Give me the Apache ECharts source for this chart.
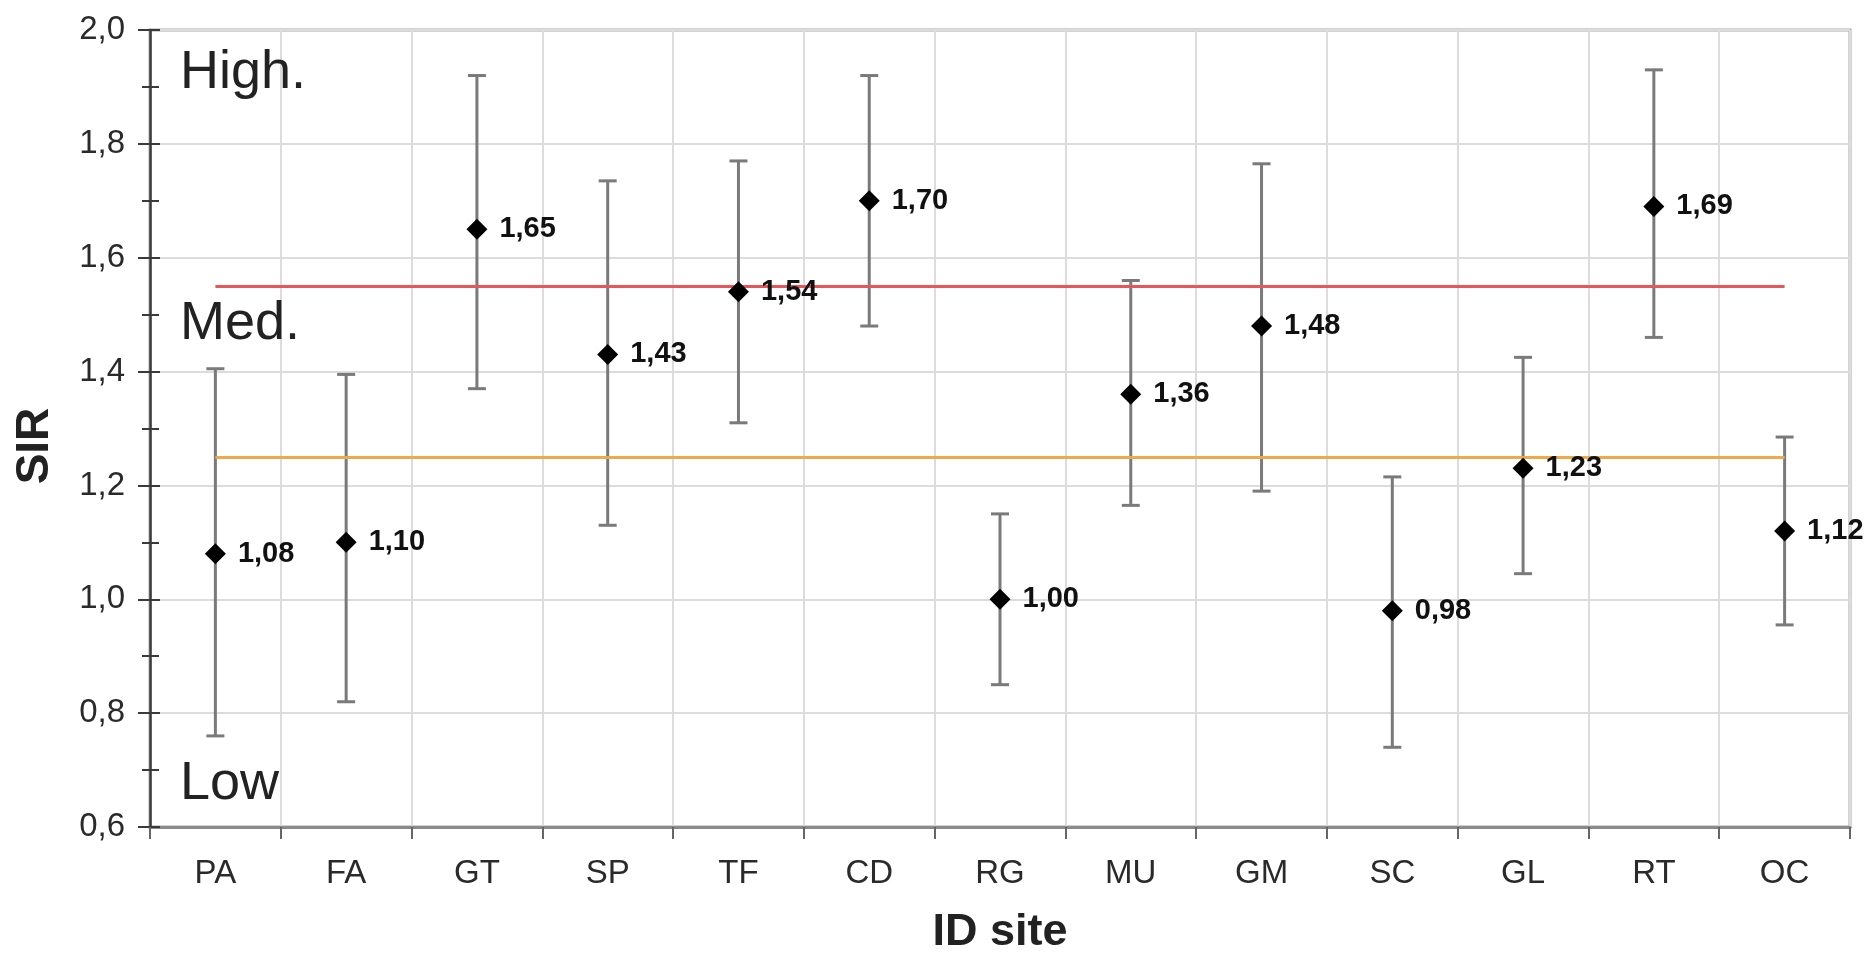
<!DOCTYPE html>
<html>
<head>
<meta charset="utf-8">
<title>SIR by site</title>
<script src="https://cdn.jsdelivr.net/npm/echarts@6/dist/echarts.min.js"></script>
<style>
  html, body { margin: 0; padding: 0; background: #ffffff; }
  #chart { width: 1872px; height: 956px; }
</style>
</head>
<body>
<div id="chart"></div>
<script>
// Sites along the x axis
const categories = ['PA', 'FA', 'GT', 'SP', 'TF', 'CD', 'RG', 'MU', 'GM', 'SC', 'GL', 'RT', 'OC'];
// Standardised incidence ratio per site
const sirValues = [1.08, 1.10, 1.65, 1.43, 1.54, 1.70, 1.00, 1.36, 1.48, 0.98, 1.23, 1.69, 1.12];
// Confidence interval bounds per site
const lowerBounds = [0.76, 0.82, 1.37, 1.13, 1.31, 1.48, 0.85, 1.165, 1.19, 0.74, 1.045, 1.46, 0.955];
const upperBounds = [1.405, 1.395, 1.92, 1.735, 1.77, 1.92, 1.15, 1.56, 1.765, 1.215, 1.425, 1.93, 1.285];
// Class thresholds (Low / Med. / High.)
const highThreshold = 1.55;
const lowThreshold = 1.25;
// Y axis range
const yMin = 0.6;
const yMax = 2.0;
const yStep = 0.2;
// Class names written inside the plot
const classNames = ['High.', 'Med.', 'Low'];

const FONT = '"Liberation Sans", Arial, Helvetica, sans-serif';
const comma = (v, d) => Number(v).toFixed(d).replace('.', ',');

const chart = echarts.init(document.getElementById('chart'), null, { renderer: 'canvas' });

const errorData = categories.map((c, i) => [i, lowerBounds[i], upperBounds[i]]);

const baseY = {
  type: 'value',
  min: yMin,
  max: yMax,
  interval: yStep,
  position: 'left'
};

const option = {
  backgroundColor: '#ffffff',
  animation: false,
  grid: {
    left: 150, right: 22, top: 30, bottom: 129,
    show: true,
    borderColor: '#a8a8a8',
    borderWidth: 3,
    backgroundColor: 'transparent'
  },
  xAxis: {
    type: 'category',
    data: categories,
    boundaryGap: true,
    axisLine: { show: true, lineStyle: { color: '#8a8a8a', width: 3 } },
    axisTick: { show: true, alignWithLabel: false, length: 12, lineStyle: { color: '#666', width: 2 } },
    axisLabel: { fontFamily: FONT, fontSize: 33, color: '#2a2a2a', margin: 30 },
    splitLine: { show: true, lineStyle: { color: '#dcdcdc', width: 2 } }
  },
  yAxis: [
    Object.assign({}, baseY, {
      axisLine: { show: true, lineStyle: { color: '#3a3a3a', width: 2.5 } },
      axisTick: { show: true, inside: false, length: 12, lineStyle: { color: '#3a3a3a', width: 2 } },
      minorTick: { show: true, splitNumber: 2, length: 8, lineStyle: { color: '#3a3a3a', width: 2 } },
      axisLabel: {
        fontFamily: FONT, fontSize: 33, color: '#2a2a2a', margin: 25,
        formatter: v => comma(v, 1)
      },
      splitLine: { show: true, lineStyle: { color: '#dcdcdc', width: 2 } }
    }),
    Object.assign({}, baseY, {
      axisLine: { show: false },
      axisTick: { show: true, inside: true, length: 10, lineStyle: { color: '#3a3a3a', width: 2 } },
      minorTick: { show: true, splitNumber: 2, length: 9, lineStyle: { color: '#3a3a3a', width: 2 } },
      axisLabel: { show: false },
      splitLine: { show: false }
    })
  ],
  series: [
    {
      name: 'CI',
      type: 'custom',
      z: 2,
      data: errorData,
      encode: { x: 0, y: [1, 2] },
      renderItem: (params, api) => {
        const idx = api.value(0);
        const lo = api.coord([idx, api.value(1)]);
        const hi = api.coord([idx, api.value(2)]);
        const half = 9;
        const style = { stroke: '#7a7a7a', lineWidth: 3 };
        return {
          type: 'group',
          children: [
            { type: 'line', shape: { x1: lo[0], y1: lo[1], x2: hi[0], y2: hi[1] }, style },
            { type: 'line', shape: { x1: hi[0] - half, y1: hi[1], x2: hi[0] + half, y2: hi[1] }, style },
            { type: 'line', shape: { x1: lo[0] - half, y1: lo[1], x2: lo[0] + half, y2: lo[1] }, style }
          ]
        };
      }
    },
    {
      name: 'Thresholds',
      type: 'line',
      data: [],
      z: 3,
      markLine: {
        silent: true,
        symbol: 'none',
        label: { show: false },
        data: [
          [
            { coord: [categories[0], highThreshold] },
            { coord: [categories[categories.length - 1], highThreshold], lineStyle: { color: '#e8565a', width: 3, type: 'solid' } }
          ],
          [
            { coord: [categories[0], lowThreshold] },
            { coord: [categories[categories.length - 1], lowThreshold], lineStyle: { color: '#f0a948', width: 3, type: 'solid' } }
          ]
        ]
      }
    },
    {
      name: 'SIR',
      type: 'scatter',
      z: 5,
      symbol: 'diamond',
      symbolSize: [21, 21],
      itemStyle: { color: '#000000', opacity: 1 },
      data: sirValues,
      label: {
        show: true,
        position: 'right',
        distance: 12,
        fontFamily: FONT,
        fontSize: 29,
        fontWeight: 'bold',
        color: '#111',
        formatter: p => comma(p.value, 2)
      }
    }
  ],
  graphic: [
    {
      type: 'text', left: 180, top: 46, z: 10,
      style: { text: classNames[0], font: '54px ' + FONT, fill: '#222' }
    },
    {
      type: 'text', left: 180, top: 297, z: 10,
      style: { text: classNames[1], font: '54px ' + FONT, fill: '#222' }
    },
    {
      type: 'text', left: 180, top: 757, z: 10,
      style: { text: classNames[2], font: '54px ' + FONT, fill: '#222' }
    },
    {
      type: 'text', x: 35, y: 446, rotation: Math.PI / 2, z: 10,
      style: { text: 'SIR', font: 'bold 46px ' + FONT, fill: '#222', align: 'center', verticalAlign: 'middle' }
    },
    {
      type: 'text', x: 1000, y: 933, z: 10,
      style: { text: 'ID site', font: 'bold 45px ' + FONT, fill: '#222', align: 'center', verticalAlign: 'middle' }
    }
  ]
};

chart.setOption(option);
</script>
</body>
</html>
